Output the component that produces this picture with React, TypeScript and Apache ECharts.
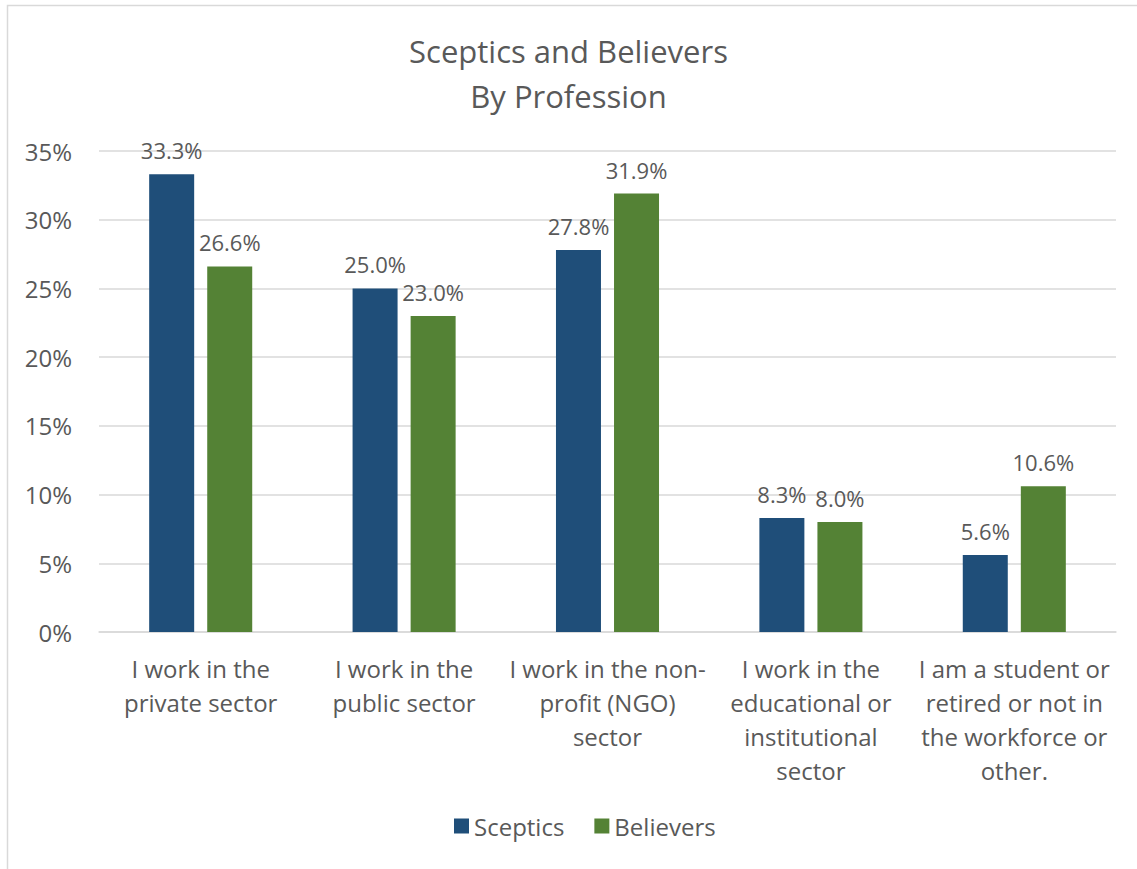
import React, { useEffect, useRef } from "react";
import * as echarts from "echarts";

const categories = [
  "I work in the\nprivate sector",
  "I work in the\npublic sector",
  "I work in the non-\nprofit (NGO)\nsector",
  "I work in the\neducational or\ninstitutional\nsector",
  "I am a student or\nretired or not in\nthe workforce or\nother.",
];
const sceptics = [33.3, 25.0, 27.8, 8.3, 5.6];
const believers = [26.6, 23.0, 31.9, 8.0, 10.6];
const seriesNames = ["Sceptics", "Believers"];
const titleLines = ["Sceptics and Believers", "By Profession"];

const FONT = "'Open Sans', 'Noto Sans', sans-serif";
const TEXT = "#595959";

export default function App() {
  const ref = useRef<HTMLDivElement>(null);
  useEffect(() => {
    if (!ref.current) return;
    const chart = echarts.init(ref.current, null, { renderer: "svg" });
    const label = {
      show: true,
      position: "top" as const,
      distance: 13,
      color: TEXT,
      fontSize: 22,
      fontFamily: FONT,
      formatter: (p: any) => p.value.toFixed(1) + "%",
    };
    chart.setOption({
      animation: false,
      backgroundColor: "#ffffff",
      textStyle: { fontFamily: FONT },
      graphic: [
        {
          type: "rect",
          shape: { x: 7.5, y: 5.5, width: 1140, height: 880 },
          style: { fill: "none", stroke: "#d9d9d9", lineWidth: 1.5 },
          silent: true,
        },
      ],
      title: {
        text: titleLines.join("\n"),
        left: "center",
        top: 23,
        textStyle: {
          color: TEXT,
          fontSize: 31,
          fontWeight: "normal",
          fontFamily: FONT,
          lineHeight: 45,
        },
      },
      legend: {
        data: seriesNames,
        bottom: 26,
        left: 449,
        itemWidth: 15,
        itemHeight: 15,
        itemGap: 30,
        icon: "rect",
        textStyle: { color: TEXT, fontSize: 24, fontFamily: FONT },
      },
      grid: { left: 99, right: 21, top: 151, bottom: 237, containLabel: false },
      xAxis: {
        type: "category",
        data: categories,
        axisTick: { show: false },
        axisLine: { lineStyle: { color: "#d9d9d9", width: 1.5 } },
        axisLabel: {
          color: TEXT,
          fontSize: 24,
          fontFamily: FONT,
          lineHeight: 34,
          margin: 19,
          interval: 0,
        },
      },
      yAxis: {
        type: "value",
        min: 0,
        max: 35,
        interval: 5,
        axisLine: { show: false },
        axisTick: { show: false },
        splitLine: { lineStyle: { color: "#d9d9d9", width: 1.5 } },
        axisLabel: {
          color: TEXT,
          fontSize: 24,
          fontFamily: FONT,
          margin: 27,
          formatter: (v: number) => v + "%",
        },
      },
      series: [
        {
          name: seriesNames[0],
          type: "bar",
          data: sceptics,
          barWidth: 45,
          barGap: "29%",
          itemStyle: { color: "#1F4E79" },
          label,
        },
        {
          name: seriesNames[1],
          type: "bar",
          data: believers,
          barWidth: 45,
          barGap: "29%",
          itemStyle: { color: "#548235" },
          label,
        },
      ],
    });
    return () => chart.dispose();
  }, []);
  return (
    <div
      ref={ref}
      style={{ position: "fixed", left: 0, top: 0, width: 1137, height: 869 }}
    />
  );
}
